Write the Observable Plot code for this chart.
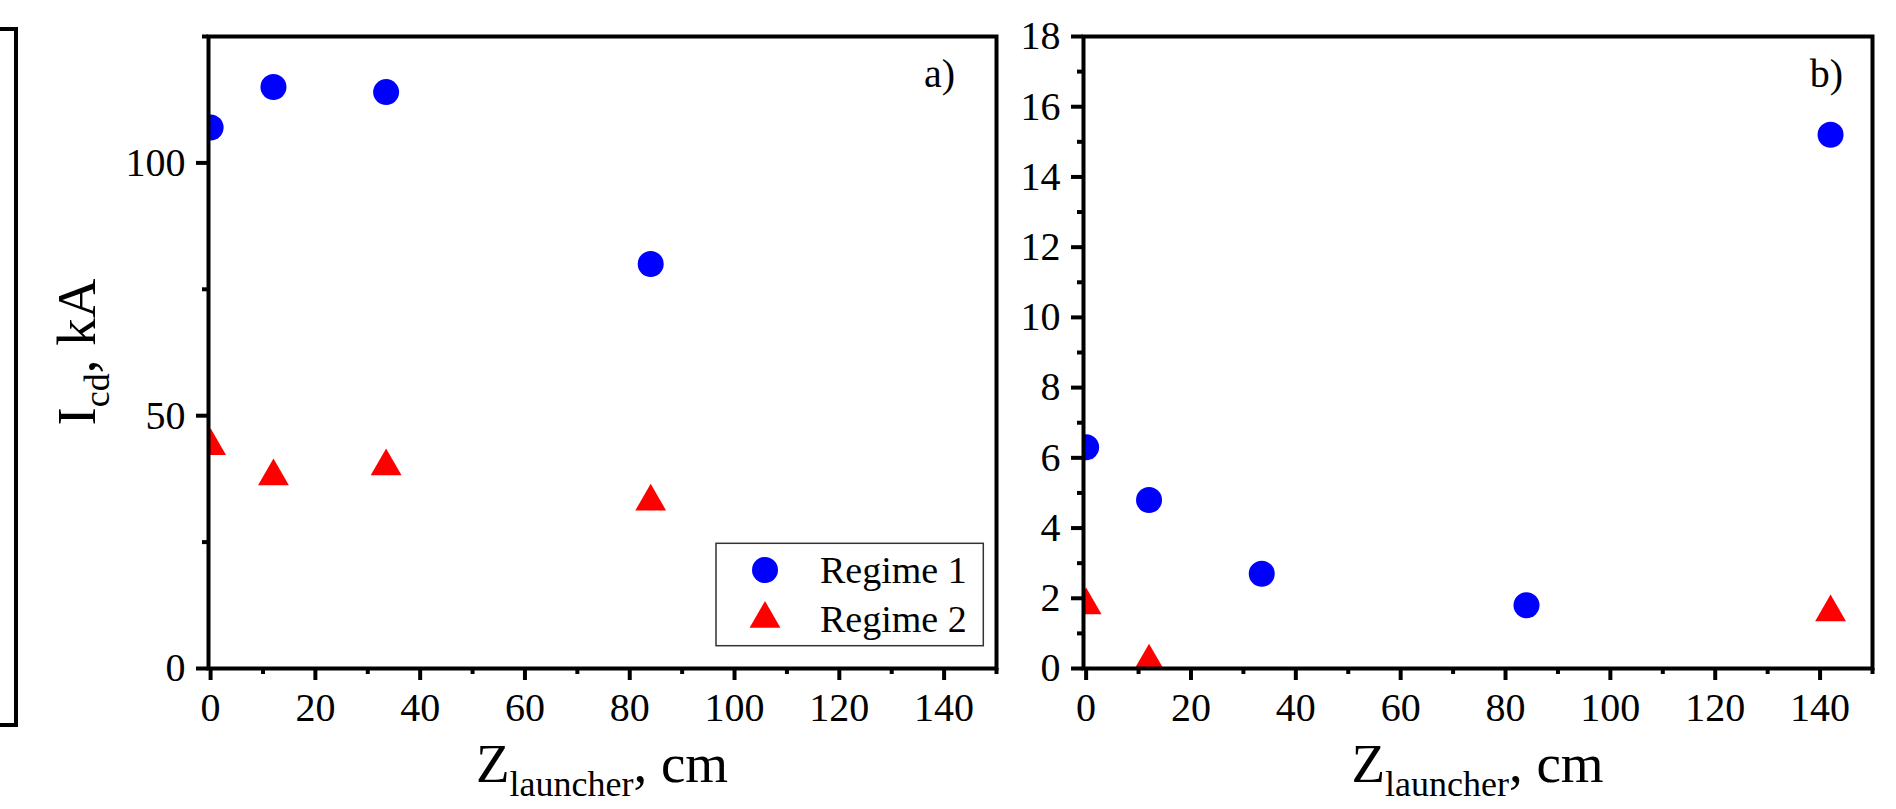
<!DOCTYPE html>
<html>
<head>
<meta charset="utf-8">
<script src="https://cdn.jsdelivr.net/npm/d3@7"></script>
<script src="https://cdn.jsdelivr.net/npm/@observablehq/plot@0.6"></script>
<style>
html, body { margin: 0; padding: 0; background: #fff; }
#root { position: relative; width: 1896px; height: 809px; overflow: hidden; font-family: "Liberation Serif", "Times New Roman", serif; }
.panel { position: absolute; top: 0; }
.panel svg text { font-family: "Liberation Serif", "Times New Roman", serif !important; }
.bracket { position: absolute; left: 0; top: 27px; width: 14px; height: 692px; border: 4px solid #000; border-left: none; }
</style>
</head>
<body>
<div id="root"><div class="bracket"></div></div>
<script>
// ---------- data ----------
const seriesNames = ["Regime 1", "Regime 2"];
const xTicks = [0, 20, 40, 60, 80, 100, 120, 140];
const xMinorTicks = [10, 30, 50, 70, 90, 110, 130, 150];

// panel a)
const aZ1 = [0, 12, 33.5, 84];
const aRegime1 = [107, 115, 114, 80];
const aZ2 = [0, 12, 33.5, 84];
const aRegime2 = [44, 38, 40, 33];
const aYTicks = [0, 50, 100];
const aYMinorTicks = [25, 75, 125];

// panel b)
const bZ1 = [0, 12, 33.5, 84, 142];
const bRegime1 = [6.3, 4.8, 2.7, 1.8, 15.2];
const bZ2 = [0, 12, 142];
const bRegime2 = [1.8, 0.2, 1.6];
const bYTicks = [0, 2, 4, 6, 8, 10, 12, 14, 16, 18];
const bYMinorTicks = [1, 3, 5, 7, 9, 11, 13, 15, 17];

const FONT = "Liberation Serif, Times New Roman, serif";
const BLUE = "#0000ff", RED = "#ff0000";
const CIRCLE_R = 13, TRI_R = 11.45;

function rows(z, v) { return z.map((d, i) => ({z: d, v: v[i]})); }

function makePanel(o) {
  const plot = Plot.plot({
    width: o.width, height: 809,
    marginLeft: o.marginLeft, marginRight: o.marginRight, marginTop: 36, marginBottom: 141,
    x: {domain: o.xDomain},
    y: {domain: o.yDomain},
    style: {fontFamily: FONT, color: "#000", background: "transparent", overflow: "visible"},
    marks: [
      Plot.dot(o.r1, {x: "z", y: "v", r: CIRCLE_R, symbol: "circle", fill: BLUE, clip: true}),
      Plot.dot(o.r2, {x: "z", y: "v", r: TRI_R, symbol: "triangle", fill: RED, clip: true}),
      Plot.axisX({ticks: xMinorTicks, tickSize: 6, strokeWidth: 4, tickFormat: () => "", label: null}),
      Plot.axisX({ticks: xTicks, tickSize: 12, tickPadding: 12, strokeWidth: 4, fontSize: 40, fontFamily: FONT, label: null}),
      Plot.axisY({ticks: o.yMinor, tickSize: 6, strokeWidth: 4, tickFormat: () => "", label: null}),
      Plot.axisY({ticks: o.yTicks, tickSize: 12, tickPadding: 11, strokeWidth: 4, fontSize: 40, fontFamily: FONT, label: null}),
      Plot.frame({stroke: "#000", strokeWidth: 4})
    ]
  });
  const svg = d3.select(plot);
  const [x0, x1] = plot.scale("x").range;
  const [yb, yt] = plot.scale("y").range;
  // x axis label
  const xl = svg.append("text")
    .attr("x", (x0 + x1) / 2).attr("y", 781.7)
    .attr("text-anchor", "middle").attr("font-family", FONT).attr("font-size", 55).attr("fill", "#000");
  xl.append("tspan").text("Z");
  xl.append("tspan").attr("font-size", 36).attr("dy", 14).text("launcher");
  xl.append("tspan").attr("dy", -14).text(", cm");
  // panel tag
  svg.append("text")
    .attr("x", x1 - o.tagInset).attr("y", 87)
    .attr("text-anchor", "end").attr("font-family", FONT).attr("font-size", 40).attr("fill", "#000")
    .text(o.tag);
  if (o.yLabel) {
    const yl = svg.append("text")
      .attr("transform", `translate(94.5, ${(yb + yt) / 2}) rotate(-90)`)
      .attr("text-anchor", "middle").attr("font-family", FONT).attr("font-size", 55).attr("fill", "#000");
    yl.append("tspan").text("I");
    yl.append("tspan").attr("font-size", 36).attr("dy", 14).text("cd");
    yl.append("tspan").attr("dy", -14).text(", kA");
  }
  if (o.legend) {
    const g = svg.append("g");
    g.append("rect").attr("x", 716).attr("y", 543.3).attr("width", 267.3).attr("height", 102.4)
      .attr("fill", "#fff").attr("stroke", "#333").attr("stroke-width", 1.5);
    const syms = [d3.symbolCircle, d3.symbolTriangle];
    const sizes = [Math.PI * CIRCLE_R * CIRCLE_R, Math.PI * TRI_R * TRI_R];
    const fills = [BLUE, RED];
    const symY = [570, 618.8];
    const txtY = [583.3, 631.7];
    seriesNames.forEach((name, i) => {
      g.append("path").attr("d", d3.symbol(syms[i], sizes[i])())
        .attr("transform", `translate(765, ${symY[i]})`).attr("fill", fills[i]);
      g.append("text").attr("x", 820).attr("y", txtY[i]).attr("text-anchor", "start")
        .attr("font-family", FONT).attr("font-size", 38).attr("fill", "#000").text(name);
    });
  }
  return plot;
}

const root = document.getElementById("root");
function place(plot, left, width) {
  const d = document.createElement("div");
  d.className = "panel";
  d.style.left = left + "px";
  d.style.width = width + "px";
  d.appendChild(plot);
  root.appendChild(d);
}

place(makePanel({
  width: 1010, marginLeft: 208, marginRight: 14,
  xDomain: [-0.4, 150], yDomain: [0, 125],
  yTicks: aYTicks, yMinor: aYMinorTicks,
  r1: rows(aZ1, aRegime1), r2: rows(aZ2, aRegime2),
  tag: "a)", tagInset: 41, yLabel: true, legend: true
}), 0, 1010);

place(makePanel({
  width: 886, marginLeft: 73, marginRight: 24,
  xDomain: [-0.5, 150], yDomain: [0, 18],
  yTicks: bYTicks, yMinor: bYMinorTicks,
  r1: rows(bZ1, bRegime1), r2: rows(bZ2, bRegime2),
  tag: "b)", tagInset: 29, yLabel: false, legend: false
}), 1010, 886);
</script>
</body>
</html>
